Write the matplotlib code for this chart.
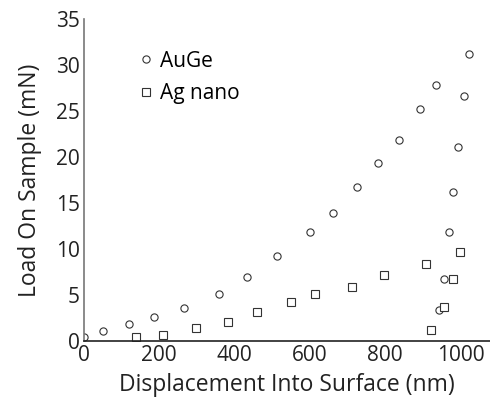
import matplotlib
matplotlib.use("Agg")
import matplotlib.pyplot as plt

plt.rcParams['font.family'] = ['Open Sans', 'DejaVu Sans']

# AuGe (circles): loading then unloading
auge_x = [0, 51, 119, 187, 267, 358, 432, 514, 599, 661, 725, 780, 836, 892, 936, 1022,
          1010, 994, 981, 968, 955, 942]
auge_y = [0.4, 1.05, 1.85, 2.6, 3.6, 5.1, 7.0, 9.2, 11.8, 13.9, 16.7, 19.3, 21.9, 25.2, 27.8, 31.2,
          26.6, 21.1, 16.2, 11.8, 6.7, 3.4]

# Ag nano (squares)
ag_x = [138, 211, 299, 382, 459, 549, 614, 713, 796, 909, 998, 981, 957, 922]
ag_y = [0.4, 0.65, 1.4, 2.1, 3.2, 4.2, 5.1, 5.9, 7.2, 8.4, 9.7, 6.7, 3.7, 1.2]

fig = plt.figure(figsize=(4.9, 4.05), dpi=100)
ax = fig.add_axes([0.171, 0.158, 0.829, 0.795])

ax.plot(auge_x, auge_y, 'o', ms=5.2, mfc='white', mec='#333333', mew=0.8, label='AuGe')
ax.plot(ag_x, ag_y, 's', ms=5.2, mfc='white', mec='#333333', mew=0.8, label='Ag nano')

ax.set_xlim(0, 1078)
ax.set_ylim(0, 35)
ax.set_xticks([0, 200, 400, 600, 800, 1000])
ax.set_yticks([0, 5, 10, 15, 20, 25, 30, 35])

for s in ['top', 'right']:
    ax.spines[s].set_visible(False)
ax.spines['left'].set_color('#777777')
ax.spines['bottom'].set_color('#222222')
ax.spines['left'].set_linewidth(1.2)
ax.spines['bottom'].set_linewidth(1.2)
ax.tick_params(length=0, labelsize=15, colors='#222222', pad=3)

ax.set_xlabel('Displacement Into Surface (nm)', fontsize=16.5, color='#222222', labelpad=5)
ax.set_ylabel('Load On Sample (mN)', fontsize=16.5, color='#222222', labelpad=10)

leg = ax.legend(loc='upper left', bbox_to_anchor=(0.075, 0.96), frameon=False,
                fontsize=15, handletextpad=0.1, labelspacing=0.55, handlelength=1.2)

fig.savefig('out.png', dpi=100)
